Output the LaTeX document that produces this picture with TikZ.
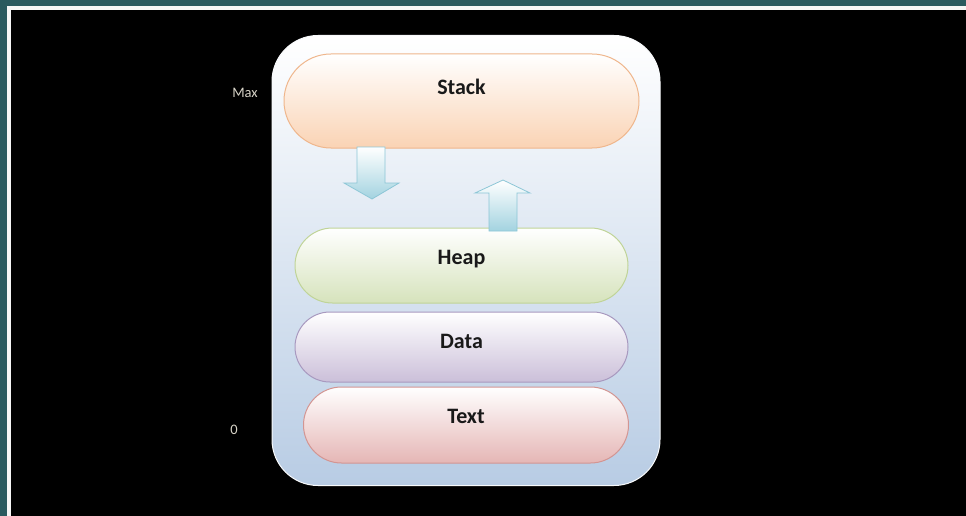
\documentclass[tikz,border=0pt]{standalone}
\usepackage{fontspec}
\setmainfont{Carlito}
\usetikzlibrary{shapes.misc}
\definecolor{teal0}{HTML}{2A5A5F}
\definecolor{outerB}{HTML}{B8CCE4}
\definecolor{stackC}{HTML}{FAD3B4}
\definecolor{stackB}{HTML}{EFB68C}
\definecolor{heapC}{HTML}{D6E3BC}
\definecolor{heapB}{HTML}{C0D498}
\definecolor{dataC}{HTML}{CBBFD9}
\definecolor{dataB}{HTML}{A899BF}
\definecolor{textC}{HTML}{E5B6B5}
\definecolor{textB}{HTML}{D39592}
\definecolor{arrC}{HTML}{A3D3E0}
\definecolor{arrB}{HTML}{8CC6D6}
\definecolor{lblC}{HTML}{D8D4C8}
\begin{document}
\begin{tikzpicture}[x=1pt,y=-1pt,
  seg/.style={rounded rectangle, minimum height=#1, inner sep=0pt, line width=1pt},
  seglbl/.style={font=\fontsize{22}{24}\selectfont\bfseries, text=black!90, inner sep=0pt},
  blockarrow/.style={draw=arrB, line width=0.8pt, top color=white, bottom color=arrC},
  axislbl/.style={font=\fontsize{14.5}{16}\selectfont, text=lblC, inner sep=0pt}]
\useasboundingbox (0,0) rectangle (966,516);
\fill[teal0] (0,0) rectangle (966,516);
\fill[white!93!gray] (7,6) rectangle (966,516);
\fill[black] (11,10) rectangle (966,516);
% outer container
\node[draw=white!90!outerB, line width=1pt, rounded corners=46pt, top color=white, bottom color=outerB,
  minimum width=388pt, minimum height=450pt, inner sep=0pt] (mem) at (466,260.5) {};
% segments
\node[seg=94pt, minimum width=355pt, draw=stackB, top color=white, bottom color=stackC] (stack) at (461.5,101) {};
\node[seglbl] (stacklbl) at (461.5,87) {Stack};
\node[seg=75pt, minimum width=333pt, draw=heapB, top color=white, bottom color=heapC] (heap) at (461.5,265.5) {};
\node[seglbl] (heaplbl) at (461.5,259) {Heap};
\node[seg=70pt, minimum width=333pt, draw=dataB, top color=white, bottom color=dataC] (data) at (461.5,347) {};
\node[seglbl] (datalbl) at (461.5,341) {Data};
\node[seg=76pt, minimum width=325pt, draw=textB, top color=white, bottom color=textC] (text) at (466,425) {};
\node[seglbl] (textlbl) at (466,416) {Text};
% block arrows
\path[blockarrow] (357,147) -- (385,147) -- (385,183) -- (399,183) -- (372,199) -- (344,183) -- (357,183) -- cycle;
\path[blockarrow] (489,231) -- (517,231) -- (517,193) -- (530,193) -- (503,180) -- (475,193) -- (489,193) -- cycle;
% axis labels
\node[axislbl] (maxlbl) at (245,93) {Max};
\node[axislbl] (zerolbl) at (234,430) {0};
\end{tikzpicture}
\end{document}
